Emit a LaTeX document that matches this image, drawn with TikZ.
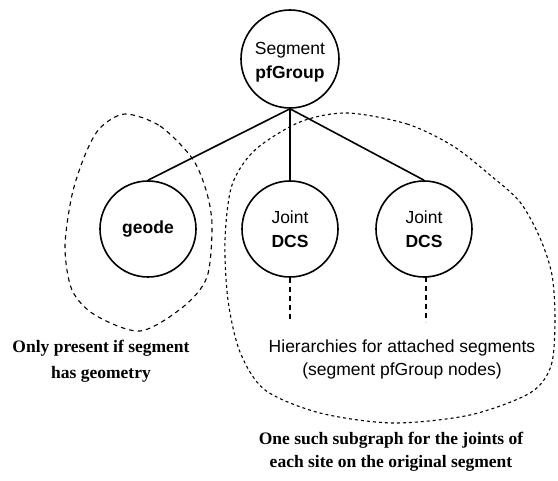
\documentclass[tikz,border=0pt]{standalone}
\usepackage{fontspec}
\setmainfont{Liberation Serif}
\setsansfont{Liberation Sans}
\begin{document}
\begin{tikzpicture}[x=1pt,y=-1pt,
  circnode/.style={circle,draw,line width=1.6pt,minimum size=96pt,inner sep=0pt,align=center,
    font=\sffamily\fontsize{17.5}{24}\selectfont},
  edge/.style={line width=1.6pt},
  hier/.style={line width=1.8pt,dash pattern=on 5pt off 4pt},
  loopL/.style={line width=1.1pt,dash pattern=on 4.5pt off 4pt},
  loopR/.style={line width=1.1pt,dash pattern=on 3pt off 3pt},
  serifnote/.style={inner sep=0pt,align=center,font=\bfseries\fontsize{17.5}{26}\selectfont},
  sansnote/.style={inner sep=0pt,align=center,font=\sffamily\fontsize{17.5}{23}\selectfont}]
\useasboundingbox (0,0) rectangle (558,481);
\node[circnode,minimum size=98pt,
  label={[inner sep=0pt,align=center,yshift=-3pt,font=\sffamily\fontsize{17.5}{24}\selectfont]center:Segment\\\textbf{pfGroup}}] (top) at (290,59) {};
\node[circnode] (geode) at (148,229) {\textbf{geode}};
\node[circnode] (j1) at (290,229) {Joint\\\textbf{DCS}};
\node[circnode] (j2) at (424,229) {Joint\\\textbf{DCS}};
\draw[edge] (top.south) -- (geode.north);
\draw[edge] (top.south) -- (j1.north);
\draw[edge] (top.south) -- (j2.north);
\coordinate (e1) at (290,322);
\coordinate (e2) at (426,322);
\draw[hier] (j1.south) -- (e1);
\draw[hier] (426,277) -- (e2);
\draw[loopL] plot[smooth cycle] coordinates {(125,114) (160,126) (192,158) (206,190) (212,225) (207,277) (183,307) (140,331) (95,315) (72,290) (65,247) (72,195) (85,155) (100,128)};
\draw[loopR] plot[smooth cycle] coordinates {(347,113) (407,124) (453,146) (490,175) (520,202) (540,238) (552,275) (555,320) (551,366) (530,393) (470,415) (393,423) (320,413) (265,390) (240,352) (228,300) (225,240) (232,185) (255,150) (300,122)};
\node[sansnote] (hier) at (402,359) {Hierarchies for attached segments\\(segment pfGroup nodes)};
\node[serifnote] (only) at (101,361) {Only present if segment\\has geometry};
\node[serifnote,font=\bfseries\fontsize{17.5}{23}\selectfont] (one) at (391,452) {One such subgraph for the joints of\\each site on the original segment};
\end{tikzpicture}
\end{document}
